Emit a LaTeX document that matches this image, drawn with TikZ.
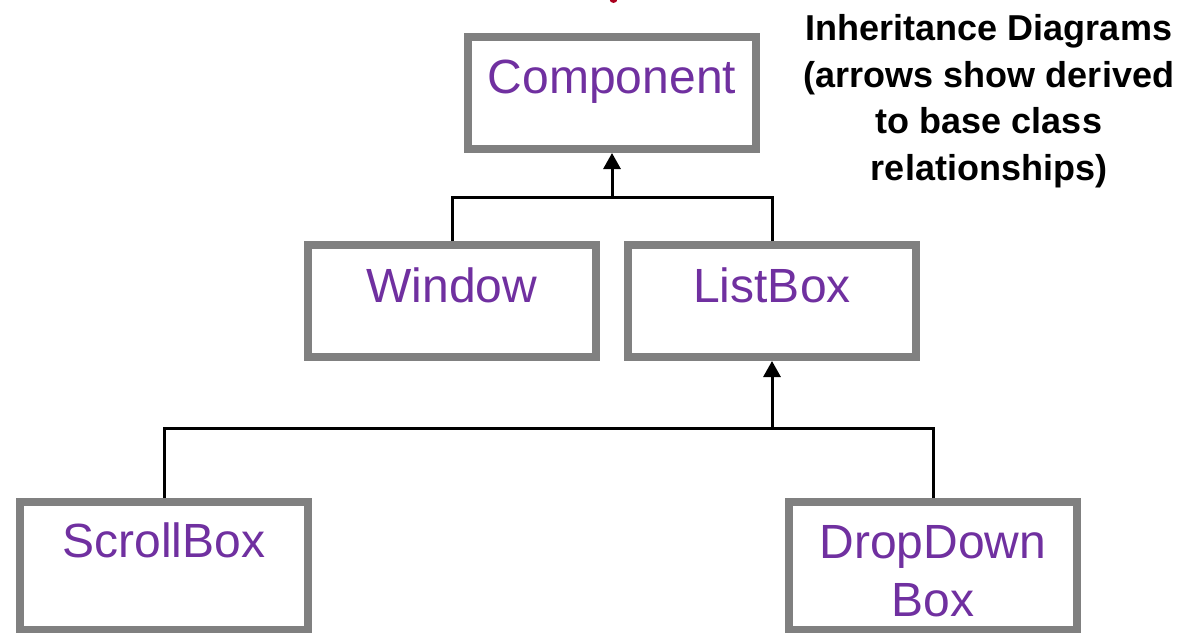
\documentclass[tikz,border=0pt]{standalone}
\usepackage{fontspec}
\setmainfont{Liberation Sans}
\usetikzlibrary{arrows.meta}
\definecolor{boxgray}{RGB}{128,128,128}
\definecolor{txtpurple}{RGB}{112,48,160}
\definecolor{darkred}{RGB}{170,0,30}
\tikzset{
  classbox/.style={draw=boxgray, line width=8pt, fill=white, rectangle, inner sep=0pt,
    minimum width=288pt, minimum height=112pt},
  tallbox/.style={classbox, minimum height=128pt},
  lbl/.style={anchor=base, text=txtpurple, font=\fontsize{48pt}{58pt}\selectfont, inner sep=0pt},
  conn/.style={draw=black, line width=3pt},
  arr/.style={conn, -{Triangle[width=17pt,length=16pt]}},
  title/.style={align=center, font=\bfseries\fontsize{36pt}{46.5pt}\selectfont, inner sep=0pt}
}
\begin{document}
\begin{tikzpicture}[x=1pt,y=-1pt]
\useasboundingbox (0,0) rectangle (1188,632);
% partially visible red mark at top edge
\begin{scope}
\clip (0,0) rectangle (1188,632);
\fill[darkred] (613.5,-1) ellipse (4pt and 4pt);
\end{scope}
% boxes
\node[classbox] (comp) at (612,93) {};
\node[classbox] (win) at (452,301) {};
\node[classbox] (lb) at (772,301) {};
\node[tallbox] (sb) at (164,566) {};
\node[tallbox] (dd) at (933,566) {};
% labels
\node[lbl] (tcomp) at (612,93) {Component};
\node[lbl] (twin) at (452,302) {Window};
\node[lbl] (tlb) at (772,302) {ListBox};
\node[lbl] (tsb) at (164,557) {ScrollBox};
\node[lbl] (tdd) at (933,558) {DropDown};
\node[lbl] (tdd2) at (933,616) {Box};
% title
\node[title, anchor=base] (t1) at (989,40) {Inheritance Diagrams};
\node[title, anchor=base] (t2) at (989,87) {(arrows show derived};
\node[title, anchor=base] (t3) at (989,133) {to base class};
\node[title, anchor=base] (t4) at (989,180) {relationships)};
% connectors
\coordinate (j1) at (612,197);
\coordinate (j2) at (772,428);
\draw[conn] (win.north) |- (j1);
\draw[conn] (lb.north) |- (j1);
\draw[arr] (j1) -- (comp.south);
\draw[conn] (sb.north) |- (j2);
\draw[conn] (dd.north) |- (j2);
\draw[arr] (j2) -- (lb.south);
\end{tikzpicture}
\end{document}
